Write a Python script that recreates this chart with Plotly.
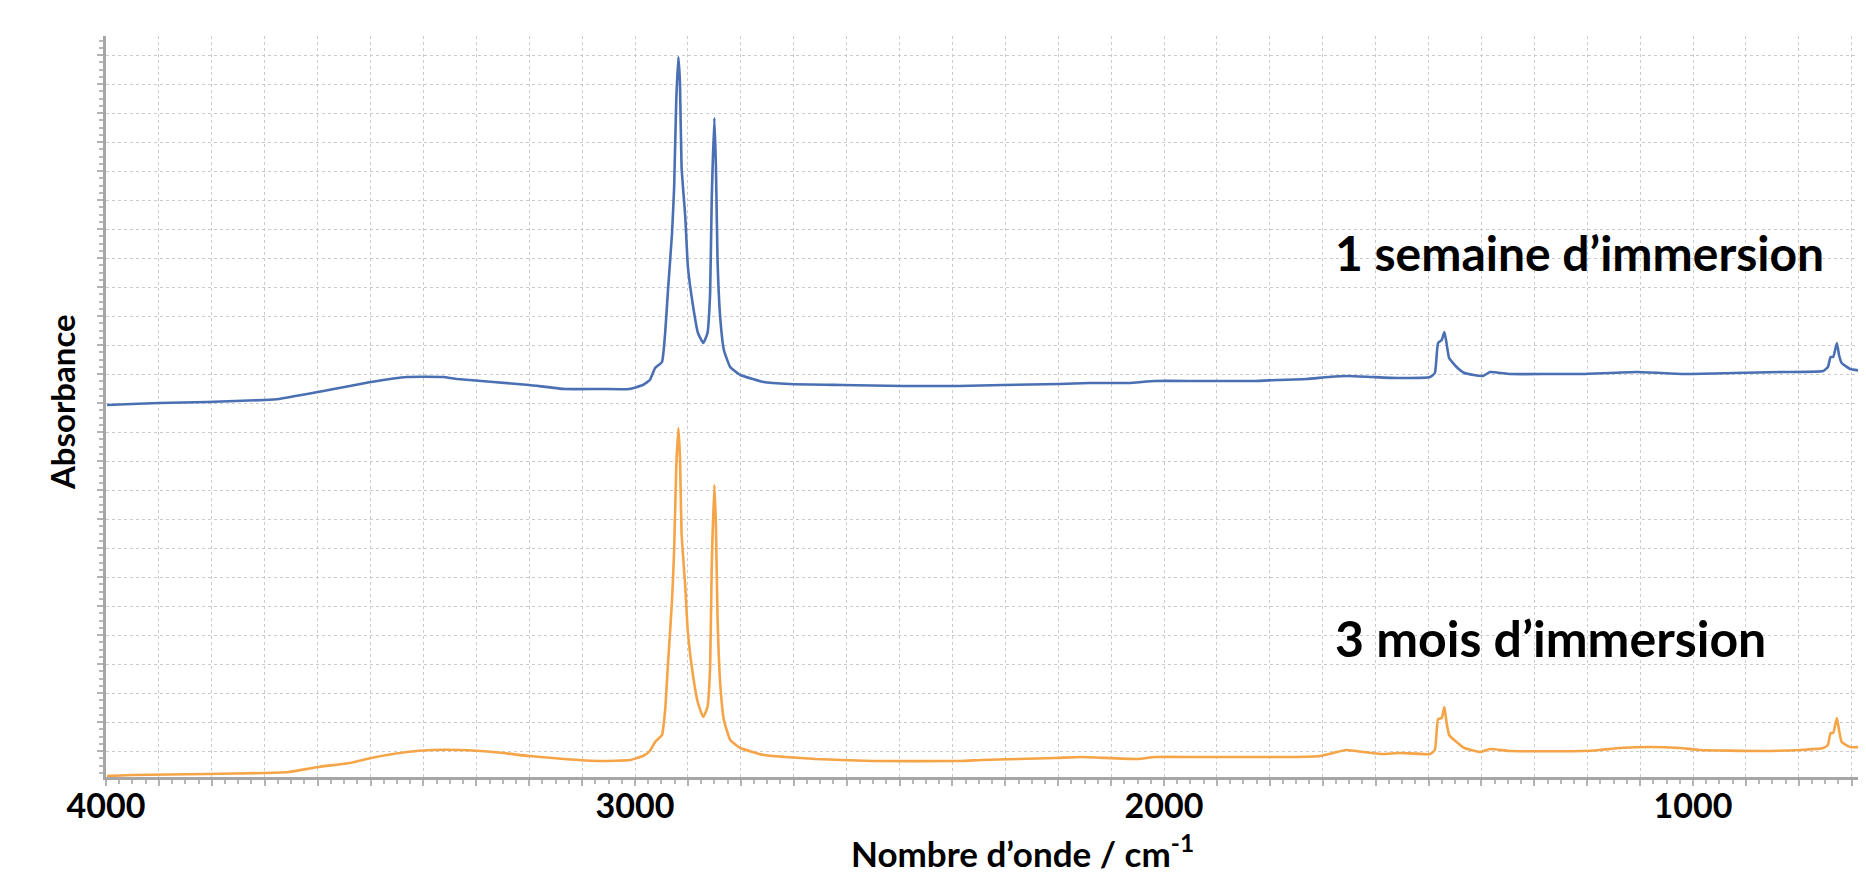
import plotly.graph_objects as go

# ---- data (wavenumber in cm-1, absorbance in arbitrary units) ----
wn_1_semaine = [3998, 3951, 3900, 3809, 3701, 3673, 3599, 3539, 3499, 3431, 3363, 3336, 3268, 3200,
                3134, 3066, 3011, 2985, 2972, 2962, 2949, 2943, 2938, 2930, 2926, 2922, 2918, 2915,
                2912, 2905, 2900, 2890, 2881, 2871, 2863, 2858, 2855, 2850, 2847, 2844, 2839, 2832,
                2820, 2801, 2777, 2757, 2708, 2609, 2494, 2388, 2305, 2198, 2141, 2067, 2017, 1936,
                1828, 1787, 1730, 1689, 1652, 1607, 1558, 1497, 1488, 1482, 1475, 1470, 1466, 1461,
                1447, 1432, 1397, 1384, 1346, 1270, 1208, 1106, 1019, 924, 830, 754, 745, 740, 735,
                728, 724, 719, 703, 678]
abs_1_semaine = [3.72, 3.73, 3.74, 3.75, 3.77, 3.78, 3.85, 3.91, 3.95, 4.00, 4.00, 3.98, 3.95, 3.92,
                 3.88, 3.88, 3.88, 3.92, 3.97, 4.09, 4.15, 4.44, 4.84, 5.44, 5.90, 6.77, 7.20, 6.94,
                 6.10, 5.60, 5.10, 4.70, 4.44, 4.34, 4.44, 4.84, 5.77, 6.59, 6.10, 5.17, 4.60, 4.27,
                 4.10, 4.02, 3.98, 3.95, 3.93, 3.92, 3.91, 3.91, 3.92, 3.93, 3.94, 3.94, 3.96, 3.96,
                 3.96, 3.97, 3.98, 4.00, 4.01, 4.00, 3.99, 4.00, 4.04, 4.34, 4.37, 4.45, 4.34, 4.19,
                 4.10, 4.04, 4.01, 4.05, 4.03, 4.03, 4.03, 4.05, 4.03, 4.04, 4.05, 4.06, 4.10, 4.20, 4.20,
                 4.34, 4.22, 4.14, 4.08, 4.06]

wn_3_mois = [3998, 3951, 3809, 3701, 3654, 3599, 3539, 3499, 3431, 3384, 3329, 3268, 3200, 3134,
             3066, 3009, 2985, 2972, 2962, 2949, 2943, 2938, 2930, 2926, 2922, 2918, 2915, 2912,
             2905, 2900, 2890, 2881, 2871, 2863, 2858, 2855, 2850, 2847, 2844, 2839, 2832, 2820,
             2801, 2757, 2716, 2658, 2609, 2552, 2384, 2346, 2206, 2157, 2051, 2017, 1936, 1762,
             1705, 1680, 1656, 1624, 1590, 1554, 1497, 1488, 1482, 1475, 1470, 1466, 1461, 1447,
             1432, 1403, 1384, 1346, 1208, 1176, 1138, 1081, 1025, 987, 873, 798, 754, 745, 740,
             735, 728, 724, 719, 703, 678]
abs_3_mois = [0.01, 0.02, 0.03, 0.04, 0.05, 0.10, 0.14, 0.19, 0.25, 0.27, 0.27, 0.25, 0.21, 0.18,
              0.16, 0.17, 0.21, 0.26, 0.35, 0.42, 0.67, 1.10, 1.77, 2.27, 3.10, 3.49, 3.20, 2.44,
              1.90, 1.44, 1.00, 0.74, 0.60, 0.70, 1.10, 2.10, 2.92, 2.50, 1.60, 0.94, 0.57, 0.37,
              0.29, 0.22, 0.20, 0.18, 0.17, 0.16, 0.16, 0.17, 0.19, 0.20, 0.18, 0.20, 0.20, 0.20,
              0.21, 0.24, 0.27, 0.25, 0.23, 0.24, 0.23, 0.27, 0.58, 0.59, 0.70, 0.55, 0.42, 0.35,
              0.29, 0.25, 0.28, 0.26, 0.26, 0.27, 0.29, 0.30, 0.29, 0.27, 0.26, 0.27, 0.29, 0.32, 0.44,
              0.44, 0.59, 0.47, 0.35, 0.30, 0.30]

x_tick_values = [4000, 3900, 3800, 3700, 3600, 3500, 3400, 3300, 3200, 3100,
                 3000, 2900, 2800, 2700, 2600, 2500, 2400, 2300, 2200, 2100,
                 2000, 1900, 1800, 1700, 1600, 1500, 1400, 1300, 1200, 1100,
                 1000, 900, 800, 700]
x_tick_labels = ["4000", "", "", "", "", "", "", "", "", "",
                 "3000", "", "", "", "", "", "", "", "", "",
                 "2000", "", "", "", "", "", "", "", "", "",
                 "1000", "", "", ""]

label_1 = "1 semaine d’immersion"
label_2 = "3 mois d’immersion"
x_title = "Nombre d’onde / cm<sup>-1</sup>"
y_title = "Absorbance"

FONT = "Lato"
GRID = "#cbcbcb"
AXIS = "#a6a6a6"

fig = go.Figure()
fig.add_trace(go.Scatter(x=wn_1_semaine, y=abs_1_semaine, mode="lines",
                         line=dict(color="#4a6fb3", width=2.6, shape="spline", smoothing=0.4),
                         name=label_1, showlegend=False))
fig.add_trace(go.Scatter(x=wn_3_mois, y=abs_3_mois, mode="lines",
                         line=dict(color="#f5a447", width=2.6, shape="spline", smoothing=0.4),
                         name=label_2, showlegend=False))

# the page body has an 8 px margin, so the figure is sized/offset to compensate
fig.update_layout(
    width=1858, height=865,
    margin=dict(l=98, r=0, t=28, b=96),
    paper_bgcolor="white", plot_bgcolor="white",
    font=dict(family=FONT, color="black"),
    xaxis=dict(
        range=[4000, 673],
        tickmode="array", tickvals=x_tick_values, ticktext=x_tick_labels,
        tickfont=dict(family=FONT, size=34, color="black", weight="bold"),
        showgrid=True, gridcolor=GRID, griddash="dot", gridwidth=1,
        showline=True, linecolor=AXIS, linewidth=3,
        ticks="outside", ticklen=6, tickwidth=2, tickcolor="#b3b3b3",
        ticklabelstandoff=-9,
        minor=dict(tickmode="linear", tick0=4000, dtick=25, ticks="outside", ticklen=4,
                   tickwidth=1.5, tickcolor="#b8b8b8", showgrid=False),
        zeroline=False,
    ),
    yaxis=dict(
        range=[0, 7.41],
        tickmode="linear", tick0=0.26, dtick=0.29,
        showticklabels=False,
        showgrid=True, gridcolor=GRID, griddash="dot", gridwidth=1,
        showline=True, linecolor=AXIS, linewidth=3,
        ticks="outside", ticklen=6, tickwidth=2, tickcolor="#b3b3b3",
        minor=dict(tickmode="linear", tick0=0.26, dtick=0.0725, ticks="outside", ticklen=4,
                   tickwidth=1.5, tickcolor="#b8b8b8", showgrid=False),
        zeroline=False,
    ),
    annotations=[
        dict(text=label_1, xref="paper", yref="paper", x=0.697, y=0.7085,
             xanchor="left", yanchor="middle", showarrow=False,
             font=dict(family=FONT, size=48, color="black", weight="bold")),
        dict(text=label_2, xref="paper", yref="paper", x=0.697, y=0.1876,
             xanchor="left", yanchor="middle", showarrow=False,
             font=dict(family=FONT, size=50, color="black", weight="bold")),
        dict(text=x_title, xref="paper", yref="paper", x=0.521, y=-0.1,
             xanchor="center", yanchor="middle", showarrow=False,
             font=dict(family=FONT, size=35, color="black", weight="bold")),
        dict(text=y_title, xref="paper", yref="paper", x=-0.025, y=0.506,
             xanchor="center", yanchor="middle", showarrow=False, textangle=-90,
             font=dict(family=FONT, size=33, color="black", weight="bold")),
    ],
)

fig.write_html("out.html")
